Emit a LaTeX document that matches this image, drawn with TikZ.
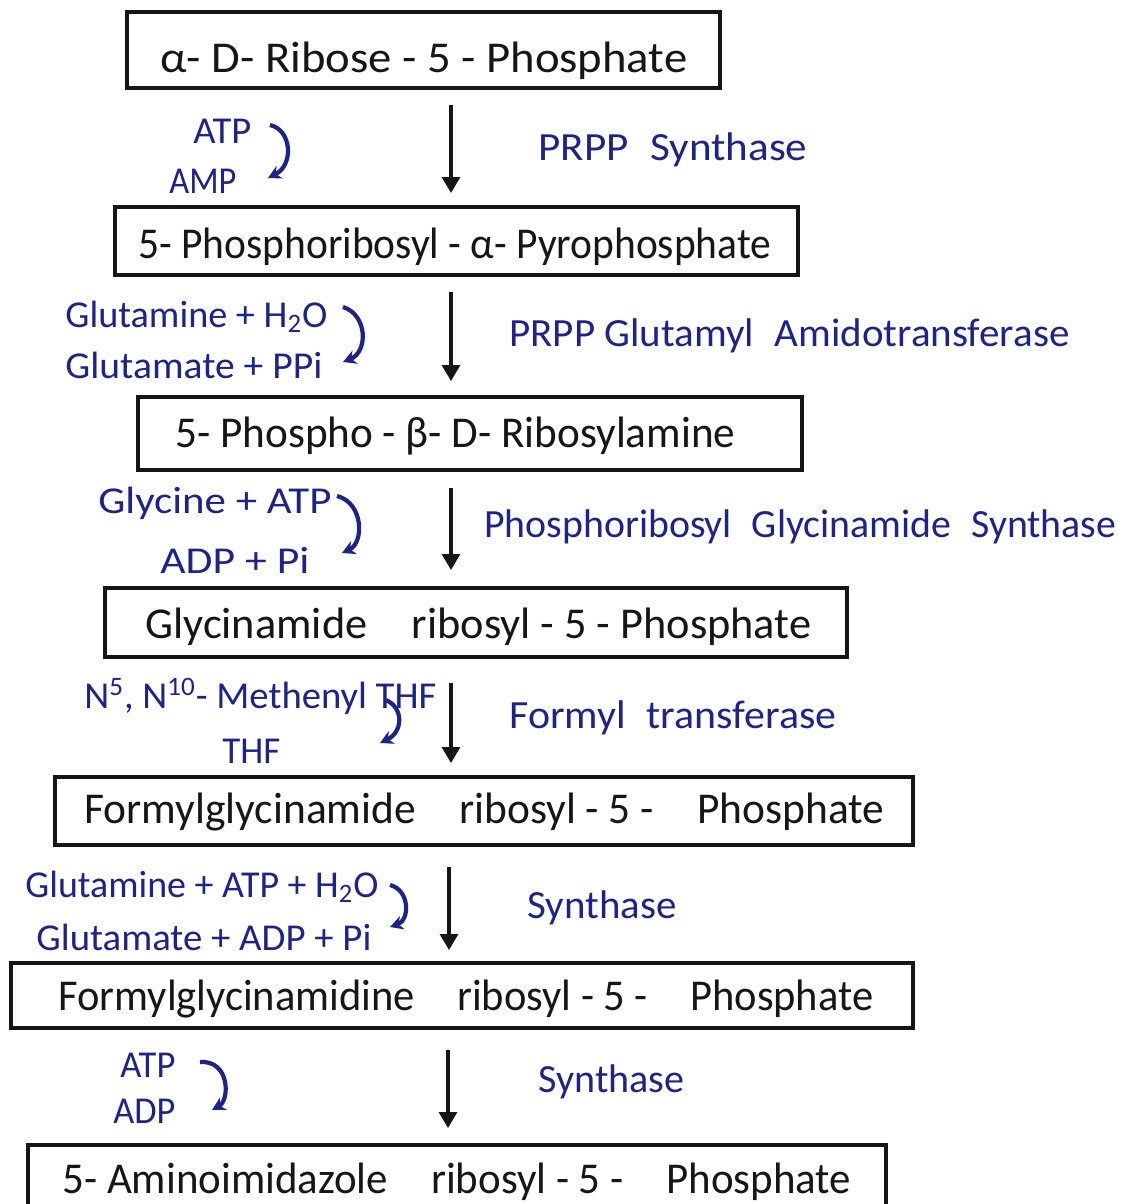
\documentclass[tikz,border=0pt]{standalone}
\usepackage{fontspec}
\setmainfont{Carlito}
\usetikzlibrary{arrows.meta}
\definecolor{ink}{RGB}{22,22,22}
\definecolor{pen}{RGB}{30,36,135}
% stretch or squeeze a label to a given width, keeping its height
\newcommand{\fitto}[2]{\resizebox{#1}{\height}{#2}}

\begin{document}
\begin{tikzpicture}[x=0.5pt,y=-0.5pt,
  box/.style={draw=ink,line width=1.8pt,inner sep=0pt},
  boxtext/.style={anchor=base west,inner sep=0pt,text=ink,font=\fontsize{22}{26}\selectfont},
  enz/.style={anchor=base west,inner sep=0pt,text=pen,font=\fontsize{20}{24}\selectfont},
  cof/.style={anchor=base west,inner sep=0pt,text=pen,font=\fontsize{19}{23}\selectfont},
  flow/.style={draw=ink,line width=1.6pt,-{Triangle[width=9pt,length=8pt]}},
  turn/.style={draw=pen,line width=2.1pt,-{Stealth[length=6.5pt,width=7pt]}}]

\useasboundingbox (0,0) rectangle (1135,1204);
\fill[white] (0,0) rectangle (1135,1204);
\clip (0,0) rectangle (1135,1204);

% ---- metabolite boxes ----
\node[box,minimum width=296.5pt,minimum height=38pt]   (b1) at (423.5,50)    {};
\node[box,minimum width=341.5pt,minimum height=34pt]   (b2) at (456.5,241)   {};
\node[box,minimum width=332pt,minimum height=36.5pt]   (b3) at (470,433.5)   {};
\node[box,minimum width=371pt,minimum height=34.5pt]   (b4) at (476,622.5)   {};
\node[box,minimum width=429pt,minimum height=34pt]     (b5) at (484,811)     {};
\node[box,minimum width=451pt,minimum height=32.5pt]   (b6) at (462,995.5)   {};
\node[box,minimum width=429pt,minimum height=42.5pt]   (b7) at (457,1187.5)  {};

\node[boxtext] (t1) at (160,73)   {\fitto{263.5pt}{α- D- Ribose - 5 - Phosphate}};
\node[boxtext] (t2) at (138,258)  {\fitto{316.5pt}{5- Phosphoribosyl - α- Pyrophosphate}};
\node[boxtext] (t3) at (175,447)  {\fitto{280pt}{5- Phospho - β- D- Ribosylamine}};
\node[boxtext] (t4) at (145,638)  {\fitto{333pt}{Glycinamide\quad ribosyl - 5 - Phosphate}};
\node[boxtext] (t5) at (84,823)   {\fitto{400pt}{Formylglycinamide\quad ribosyl - 5 -\quad Phosphate}};
\node[boxtext] (t6) at (58,1010)  {\fitto{407.5pt}{Formylglycinamidine\quad ribosyl - 5 -\quad Phosphate}};
\node[boxtext] (t7) at (62,1193)  {\fitto{394.5pt}{5- Aminoimidazole\quad ribosyl - 5 -\quad Phosphate}};

% ---- reaction arrows ----
\coordinate (a1s) at (451,105);  \coordinate (a1e) at (451,193);
\coordinate (a2s) at (451,292);  \coordinate (a2e) at (451,381);
\coordinate (a3s) at (451,488);  \coordinate (a3e) at (451,570);
\coordinate (a4s) at (451,683);  \coordinate (a4e) at (451,763);
\coordinate (a5s) at (449,867);  \coordinate (a5e) at (449,950);
\coordinate (a6s) at (448,1050); \coordinate (a6e) at (448,1128);
\foreach \i in {1,...,6} {\draw[flow] (a\i s) -- (a\i e);}

% ---- enzymes ----
\node[enz] (e1) at (538,160) {\fitto{134.5pt}{PRPP\enspace Synthase}};
\node[enz] (e2) at (509,346) {\fitto{280pt}{PRPP Glutamyl\enspace Amidotransferase}};
\node[enz] (e3) at (484,537) {\fitto{316pt}{Phosphoribosyl\enspace Glycinamide\enspace Synthase}};
\node[enz] (e4) at (509,728) {\fitto{163.5pt}{Formyl\enspace transferase}};
\node[enz] (e5) at (527,918) {\fitto{74.5pt}{Synthase}};
\node[enz] (e6) at (538,1092) {\fitto{73pt}{Synthase}};

% ---- co-substrates and co-products ----
\node[cof] (i1) at (193,143)  {\fitto{29pt}{ATP}};
\node[cof] (o1) at (169,193)  {\fitto{33.5pt}{AMP}};
\node[cof] (i2) at (65,327)   {\fitto{131pt}{Glutamine + H\textsubscript{2}O}};
\node[cof] (o2) at (65,378)   {\fitto{128.5pt}{Glutamate + PPi}};
\node[cof] (i3) at (98,513)   {\fitto{116.5pt}{Glycine + ATP}};
\node[cof] (o3) at (160,573)  {\fitto{74.5pt}{ADP + Pi}};
\node[cof] (i4) at (84,708)   {\fitto{176pt}{N\textsuperscript{5}, N\textsuperscript{10}- Methenyl THF}};
\node[cof] (o4) at (222,763)  {\fitto{29pt}{THF}};
\node[cof] (i5) at (25,897)   {\fitto{176.5pt}{Glutamine + ATP + H\textsubscript{2}O}};
\node[cof] (o5) at (36,950)   {\fitto{167.5pt}{Glutamate + ADP + Pi}};
\node[cof] (i6) at (120,1077) {\fitto{27.5pt}{ATP}};
\node[cof] (o6) at (113,1123) {\fitto{31pt}{ADP}};

% ---- side-reaction hooks ----
\coordinate (c1s) at (270,125);  \coordinate (c1e) at (268,178);
\coordinate (c2s) at (343,307);  \coordinate (c2e) at (343,362);
\coordinate (c3s) at (337,496);  \coordinate (c3e) at (342,553);
\coordinate (c4s) at (386,700);  \coordinate (c4e) at (380,743);
\coordinate (c5s) at (390,885);  \coordinate (c5e) at (390,927);
\coordinate (c6s) at (200,1062); \coordinate (c6e) at (212,1110);
\draw[turn] (c1s) .. controls (292,130) and (294,165) .. (c1e);
\draw[turn] (c2s) .. controls (368,315) and (368,352) .. (c2e);
\draw[turn] (c3s) .. controls (364,503) and (364,543) .. (c3e);
\draw[turn] (c4s) .. controls (404,708) and (403,732) .. (c4e);
\draw[turn] (c5s) .. controls (410,890) and (410,920) .. (c5e);
\draw[turn] (c6s) .. controls (230,1060) and (230,1100) .. (c6e);
\end{tikzpicture}
\end{document}
